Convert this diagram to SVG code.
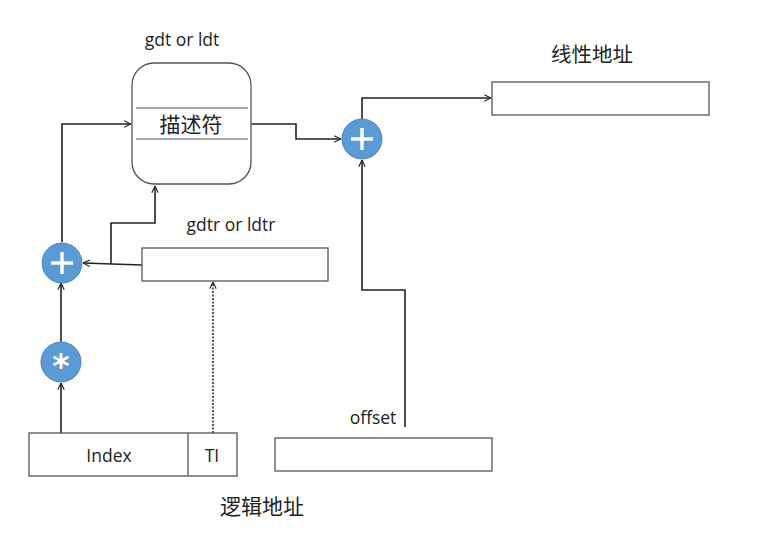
<svg xmlns="http://www.w3.org/2000/svg" width="767" height="534" viewBox="0 0 767 534">
<defs>
<style>
.box{fill:#fff;stroke:#555;stroke-width:1.3}
.ln{fill:none;stroke:#222;stroke-width:1.6}
.dot{fill:none;stroke:#222;stroke-width:1.5;stroke-dasharray:2 1.5}
.op{fill:#5b9bd5;stroke:#4a86c0;stroke-width:1}
.sym{stroke:#fff;stroke-width:3.4;stroke-linecap:butt}
.t{font-family:"Open Sans","Liberation Sans",sans-serif;fill:#222;text-anchor:middle}
.c{font-family:"Noto Sans CJK SC","Liberation Sans",sans-serif;fill:#222;text-anchor:middle}
</style>
<marker id="a" viewBox="0 0 10 10" refX="9.5" refY="5" markerWidth="8" markerHeight="8" orient="auto" markerUnits="userSpaceOnUse">
<path d="M1,1 L9.5,5 L1,9" fill="none" stroke="#222" stroke-width="1.4"/>
</marker>
</defs>
<rect width="767" height="534" fill="#fff"/>
<g id="connectors">
<polyline class="ln" points="251,124 296,124 296,139 341,139" marker-end="url(#a)"/>
<polyline class="ln" points="362,119 362,98 491,98" marker-end="url(#a)"/>
<polyline class="ln" points="405,427 405,290 362,290 362,160" marker-end="url(#a)"/>
<polyline class="ln" points="62,242 62,124 131,124" marker-end="url(#a)"/>
<polyline class="ln" points="142,265 83,263" marker-end="url(#a)"/>
<polyline class="ln" points="111,264 111,223 155,223 155,186" marker-end="url(#a)"/>
<line class="ln" x1="61" y1="342" x2="61" y2="283" marker-end="url(#a)"/>
<line class="ln" x1="61" y1="433" x2="61" y2="383" marker-end="url(#a)"/>
<line class="dot" x1="213" y1="433" x2="213" y2="282" marker-end="url(#a)"/>
</g>
<g id="descriptor">
<rect class="box" x="132" y="63" width="119" height="121" rx="22"/>
<line x1="136" y1="108" x2="248" y2="108" stroke="#555" stroke-width="1.2"/>
<line x1="136" y1="139" x2="248" y2="139" stroke="#555" stroke-width="1.2"/>
<text class="c" x="191" y="132" font-size="21">描述符</text>
<text class="t" x="182" y="46" font-size="17.5">gdt or ldt</text>
</g>
<g id="linear">
<rect class="box" x="492" y="82" width="217" height="33"/>
<text class="c" x="592" y="62" font-size="20.5">线性地址</text>
</g>
<g id="gdtr">
<rect class="box" x="142" y="248" width="186" height="33"/>
<text class="t" x="231" y="231" font-size="17.5">gdtr or ldtr</text>
</g>
<g id="logical">
<rect class="box" x="29" y="433" width="208" height="43"/>
<line x1="188" y1="433" x2="188" y2="476" stroke="#555" stroke-width="1.3"/>
<text class="t" x="109" y="462" font-size="17.5">Index</text>
<text class="t" x="212" y="462" font-size="17.5">TI</text>
<text class="c" x="262" y="514" font-size="21">逻辑地址</text>
</g>
<g id="offset">
<rect class="box" x="275" y="438" width="217" height="33"/>
<text class="t" x="373" y="424" font-size="17.5">offset</text>
</g>
<g id="plus-right">
<circle class="op" cx="362" cy="139" r="20"/>
<line class="sym" x1="351" y1="139" x2="373" y2="139"/>
<line class="sym" x1="362" y1="128" x2="362" y2="150"/>
</g>
<g id="plus-left">
<circle class="op" cx="62" cy="263" r="20"/>
<line class="sym" x1="51" y1="263" x2="73" y2="263"/>
<line class="sym" x1="62" y1="252" x2="62" y2="274"/>
</g>
<g id="multiply">
<circle class="op" cx="61" cy="362" r="20"/>
<text x="61" y="378" font-family="'DejaVu Sans',sans-serif" font-size="33" font-weight="bold" fill="#fff" text-anchor="middle">*</text>
</g>
</svg>
